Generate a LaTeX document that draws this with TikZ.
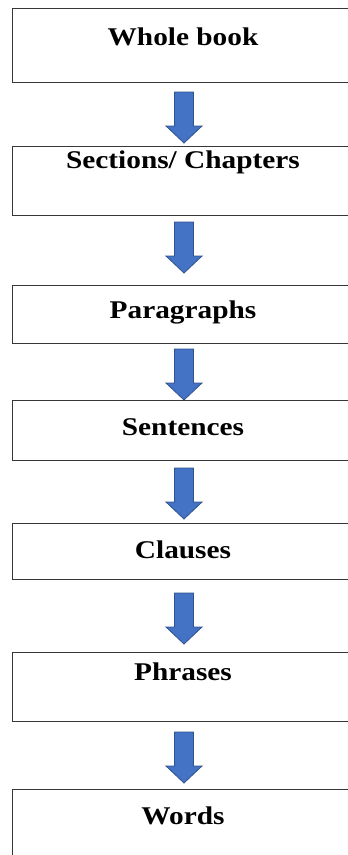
\documentclass[tikz,border=0pt]{standalone}
\usepackage{fontspec}
\setmainfont{Liberation Serif}
\definecolor{boxgray}{RGB}{55,55,55}
\definecolor{arrowblue}{RGB}{68,114,196}
\definecolor{arrowedge}{RGB}{47,82,143}
\tikzset{
  box/.style={draw=boxgray, line width=1.2pt, anchor=north west, minimum width=360pt, inner sep=0pt},
  lbl/.style={anchor=base, inner sep=0pt, font=\fontsize{25.5}{30}\selectfont\bfseries},
  blockarrow/.style={fill=arrowblue, draw=arrowedge, line width=0.8pt, line join=miter}
}
\newcommand\mydownarrow[1]{%
  \draw[blockarrow] (#1) ++(-9.5,0) -- ++(19,0) -- ++(0,34) -- ++(8.5,0) -- ++(-18,17) -- ++(-18,-17) -- ++(8.5,0) -- cycle;}
\newcommand\mylabel[1]{\scalebox{1.15}[1]{#1}}
\begin{document}
\begin{tikzpicture}[x=1pt,y=-1pt]
\useasboundingbox (0,0) rectangle (348,855);
\clip (0,0) rectangle (348,855);
% boxes
\node[box, minimum height=74pt] (b1) at (12,8) {};
\node[box, minimum height=69pt] (b2) at (12,146) {};
\node[box, minimum height=58pt] (b3) at (12,285) {};
\node[box, minimum height=60pt] (b4) at (12,400) {};
\node[box, minimum height=56pt] (b5) at (12,523) {};
\node[box, minimum height=69pt] (b6) at (12,652) {};
\node[box, minimum height=80pt] (b7) at (12,789) {};
% labels
\node[lbl] (t1) at (183,45) {\mylabel{Whole book}};
\node[lbl] (t2) at (183,168) {\mylabel{Sections/ Chapters}};
\node[lbl] (t3) at (183,318) {\mylabel{Paragraphs}};
\node[lbl] (t4) at (183,435) {\mylabel{Sentences}};
\node[lbl] (t5) at (183,558) {\mylabel{Clauses}};
\node[lbl] (t6) at (183,680) {\mylabel{Phrases}};
\node[lbl] (t7) at (183,824) {\mylabel{Words}};
% arrows
\coordinate (a1) at (184,92);
\coordinate (a2) at (184,222);
\coordinate (a3) at (184,349);
\coordinate (a4) at (184,468);
\coordinate (a5) at (184,593);
\coordinate (a6) at (184,732);
\mydownarrow{a1}
\mydownarrow{a2}
\mydownarrow{a3}
\mydownarrow{a4}
\mydownarrow{a5}
\mydownarrow{a6}
\end{tikzpicture}
\end{document}
